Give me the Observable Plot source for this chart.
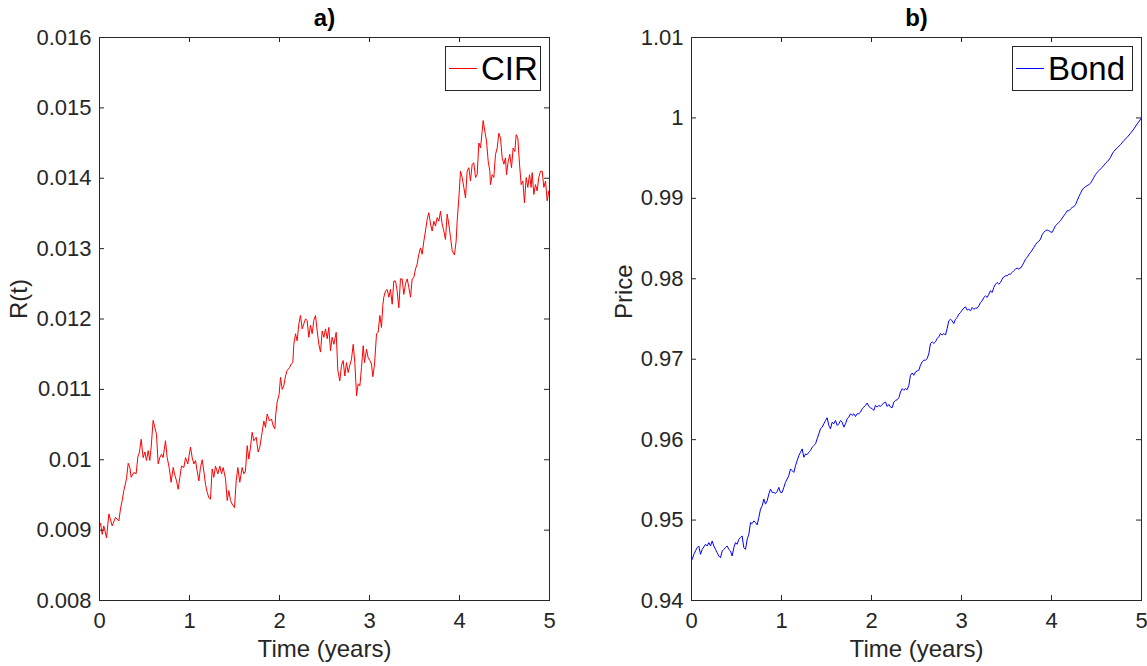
<!DOCTYPE html>
<html><head><meta charset="utf-8">
<script src="https://cdn.jsdelivr.net/npm/d3@7"></script>
<script src="https://cdn.jsdelivr.net/npm/@observablehq/plot@0.6"></script>
<style>
body{margin:0;background:#fff;}
#wrap{position:relative;width:1147px;height:666px;font-family:"Liberation Sans",Arial,sans-serif;color:#262626;background:#fff;}
.panel{position:absolute;top:0;}
.legend{position:absolute;border:1px solid #262626;background:#fff;display:flex;align-items:center;font-size:33px;color:#000;box-sizing:border-box;line-height:1;}
.legend .swatch{display:inline-block;width:28px;height:0;border-top:1px solid;margin:0 4px 0 3px;}
</style></head><body><div id="wrap"></div>
<script>
// a) CIR short rate path: [time (years), R(t)]
const cirSeries = [
[0,0.00905],[0.011,0.00910],[0.030,0.00894],[0.048,0.00906],[0.078,0.00889],[0.104,0.00923],[0.141,0.00906],[0.178,0.00918],[0.215,0.00913],[0.233,0.00930],[0.252,0.00942],[0.270,0.00956],[0.300,0.00973],[0.319,0.00995],[0.337,0.00989],[0.352,0.00975],[0.381,0.00982],[0.407,0.00980],[0.426,0.01004],[0.444,0.01011],[0.463,0.01029],[0.485,0.01003],[0.504,0.01011],[0.522,0.00999],[0.541,0.01013],[0.559,0.00999],[0.574,0.01018],[0.596,0.01056],[0.615,0.01046],[0.633,0.01036],[0.652,0.00994],[0.670,0.01003],[0.689,0.01008],[0.707,0.01003],[0.733,0.01027],[0.752,0.01003],[0.774,0.00989],[0.796,0.00968],[0.819,0.00989],[0.833,0.00980],[0.856,0.00970],[0.874,0.00958],[0.893,0.00975],[0.911,0.00991],[0.937,0.00989],[0.956,0.01003],[0.981,0.00994],
[1.011,0.01018],[1.030,0.01003],[1.048,0.00994],[1.067,0.00999],[1.085,0.00984],[1.104,0.00970],[1.122,0.00989],[1.141,0.01000],[1.159,0.00984],[1.178,0.00965],[1.196,0.00954],[1.215,0.00946],[1.233,0.00944],[1.252,0.00987],[1.270,0.00975],[1.289,0.00991],[1.315,0.00980],[1.337,0.00991],[1.356,0.00980],[1.374,0.00989],[1.400,0.00973],[1.419,0.00942],[1.437,0.00956],[1.456,0.00942],[1.474,0.00937],[1.500,0.00932],[1.519,0.00970],[1.537,0.00989],[1.559,0.00968],[1.585,0.00989],[1.604,0.00980],[1.622,0.00984],[1.641,0.01020],[1.659,0.01001],[1.678,0.01018],[1.696,0.01039],[1.715,0.01027],[1.741,0.01032],[1.763,0.01011],[1.781,0.01018],[1.807,0.01039],[1.826,0.01055],[1.844,0.01046],[1.863,0.01065],[1.889,0.01055],[1.911,0.01058],[1.930,0.01048],[1.948,0.01044],[1.959,0.01065],[1.974,0.01082],[1.996,0.01093],
[2.011,0.01117],[2.030,0.01100],[2.048,0.01105],[2.067,0.01119],[2.085,0.01127],[2.111,0.01131],[2.130,0.01136],[2.148,0.01138],[2.159,0.01164],[2.178,0.01179],[2.196,0.01169],[2.215,0.01193],[2.233,0.01205],[2.252,0.01186],[2.270,0.01193],[2.289,0.01200],[2.307,0.01198],[2.326,0.01174],[2.344,0.01191],[2.363,0.01179],[2.381,0.01198],[2.400,0.01205],[2.419,0.01183],[2.437,0.01164],[2.456,0.01153],[2.474,0.01183],[2.493,0.01174],[2.511,0.01186],[2.530,0.01172],[2.548,0.01188],[2.567,0.01155],[2.585,0.01174],[2.604,0.01164],[2.630,0.01181],[2.648,0.01127],[2.670,0.01112],[2.689,0.01134],[2.707,0.01141],[2.726,0.01119],[2.744,0.01138],[2.763,0.01124],[2.781,0.01134],[2.800,0.01143],[2.819,0.01164],[2.837,0.01138],[2.856,0.01091],[2.874,0.01108],[2.893,0.01105],[2.911,0.01131],[2.930,0.01162],[2.944,0.01138],[2.967,0.01157],[2.985,0.01145],
[3.004,0.01141],[3.022,0.01136],[3.037,0.01118],[3.056,0.01136],[3.078,0.01179],[3.096,0.01181],[3.115,0.01205],[3.133,0.01188],[3.148,0.01219],[3.159,0.01231],[3.178,0.01240],[3.196,0.01242],[3.215,0.01231],[3.233,0.01242],[3.252,0.01221],[3.270,0.01254],[3.289,0.01254],[3.307,0.01240],[3.326,0.01216],[3.344,0.01257],[3.363,0.01257],[3.381,0.01235],[3.400,0.01250],[3.419,0.01257],[3.437,0.01245],[3.456,0.01231],[3.474,0.01257],[3.493,0.01259],[3.511,0.01271],[3.530,0.01278],[3.548,0.01292],[3.567,0.01301],[3.585,0.01292],[3.604,0.01311],[3.622,0.01325],[3.641,0.01342],[3.659,0.01351],[3.678,0.01335],[3.696,0.01325],[3.715,0.01339],[3.733,0.01332],[3.752,0.01344],[3.770,0.01339],[3.789,0.01353],[3.807,0.01335],[3.826,0.01325],[3.844,0.01313],[3.863,0.01349],[3.881,0.01335],[3.900,0.01316],[3.919,0.01297],[3.944,0.01291],[3.963,0.01311],[3.974,0.01339],[3.993,0.01372],
[4.011,0.01410],[4.030,0.01401],[4.048,0.01387],[4.067,0.01372],[4.085,0.01410],[4.104,0.01415],[4.122,0.01396],[4.141,0.01420],[4.159,0.01422],[4.178,0.01401],[4.196,0.01405],[4.215,0.01450],[4.233,0.01443],[4.252,0.01467],[4.263,0.01482],[4.281,0.01467],[4.300,0.01453],[4.319,0.01424],[4.337,0.01410],[4.344,0.01391],[4.363,0.01405],[4.381,0.01401],[4.400,0.01434],[4.419,0.01443],[4.437,0.01464],[4.456,0.01457],[4.474,0.01429],[4.493,0.01420],[4.511,0.01429],[4.522,0.01405],[4.541,0.01424],[4.559,0.01434],[4.578,0.01415],[4.596,0.01443],[4.615,0.01438],[4.630,0.01462],[4.648,0.01457],[4.667,0.01420],[4.685,0.01391],[4.704,0.01396],[4.722,0.01365],[4.741,0.01401],[4.759,0.01387],[4.778,0.01405],[4.796,0.01387],[4.807,0.01408],[4.826,0.01377],[4.844,0.01391],[4.863,0.01382],[4.881,0.01401],[4.900,0.01410],[4.919,0.01410],[4.937,0.01387],[4.956,0.01396],[4.974,0.01368],[4.993,0.01382],[5.000,0.01377]
];

// b) Zero-coupon bond price path: [time (years), price]
const bondSeries = [
[0,0.94500],[0.007,0.94511],[0.026,0.94574],[0.044,0.94616],[0.063,0.94657],[0.081,0.94678],[0.100,0.94574],[0.119,0.94636],[0.137,0.94666],[0.156,0.94699],[0.174,0.94678],[0.193,0.94720],[0.211,0.94678],[0.230,0.94740],[0.248,0.94678],[0.267,0.94636],[0.285,0.94595],[0.304,0.94553],[0.322,0.94532],[0.341,0.94616],[0.359,0.94636],[0.378,0.94657],[0.396,0.94678],[0.415,0.94636],[0.433,0.94616],[0.452,0.94553],[0.470,0.94657],[0.489,0.94720],[0.507,0.94699],[0.526,0.94761],[0.544,0.94782],[0.563,0.94803],[0.581,0.94657],[0.600,0.94636],[0.619,0.94761],[0.637,0.94824],[0.656,0.94969],[0.674,0.94957],[0.693,0.94990],[0.711,0.94969],[0.730,0.94940],[0.748,0.95032],[0.767,0.95136],[0.785,0.95177],[0.804,0.95261],[0.822,0.95198],[0.841,0.95240],[0.859,0.95323],[0.878,0.95385],[0.896,0.95344],[0.915,0.95344],[0.933,0.95331],[0.952,0.95356],[0.970,0.95406],[0.989,0.95344],
[1.007,0.95344],[1.026,0.95406],[1.044,0.95469],[1.063,0.95510],[1.081,0.95552],[1.100,0.95635],[1.119,0.95614],[1.137,0.95593],[1.156,0.95677],[1.174,0.95739],[1.193,0.95802],[1.211,0.95843],[1.230,0.95885],[1.248,0.95781],[1.267,0.95822],[1.285,0.95814],[1.304,0.95843],[1.322,0.95864],[1.341,0.95906],[1.359,0.95926],[1.378,0.95947],[1.396,0.96010],[1.415,0.96072],[1.433,0.96134],[1.452,0.96155],[1.470,0.96197],[1.489,0.96238],[1.507,0.96272],[1.526,0.96176],[1.544,0.96134],[1.563,0.96218],[1.581,0.96197],[1.600,0.96238],[1.619,0.96176],[1.637,0.96197],[1.656,0.96238],[1.674,0.96218],[1.693,0.96155],[1.711,0.96197],[1.730,0.96259],[1.748,0.96280],[1.767,0.96322],[1.785,0.96301],[1.804,0.96322],[1.822,0.96288],[1.841,0.96322],[1.859,0.96322],[1.878,0.96342],[1.896,0.96384],[1.915,0.96405],[1.933,0.96426],[1.952,0.96455],[1.970,0.96413],[1.989,0.96397],
[2.007,0.96384],[2.026,0.96363],[2.044,0.96426],[2.063,0.96405],[2.081,0.96426],[2.100,0.96413],[2.119,0.96438],[2.137,0.96455],[2.156,0.96467],[2.174,0.96413],[2.193,0.96438],[2.211,0.96405],[2.230,0.96397],[2.248,0.96467],[2.267,0.96488],[2.285,0.96496],[2.304,0.96521],[2.322,0.96592],[2.341,0.96634],[2.359,0.96613],[2.378,0.96634],[2.396,0.96621],[2.415,0.96675],[2.433,0.96800],[2.452,0.96829],[2.470,0.96800],[2.489,0.96842],[2.507,0.96854],[2.526,0.96863],[2.544,0.96925],[2.563,0.96967],[2.581,0.96988],[2.600,0.96988],[2.619,0.97008],[2.637,0.97071],[2.656,0.97196],[2.674,0.97216],[2.693,0.97196],[2.711,0.97216],[2.730,0.97258],[2.748,0.97279],[2.767,0.97320],[2.785,0.97300],[2.804,0.97320],[2.822,0.97300],[2.841,0.97383],[2.859,0.97477],[2.878,0.97498],[2.896,0.97477],[2.915,0.97444],[2.933,0.97498],[2.952,0.97519],[2.970,0.97560],[2.989,0.97581],
[3.007,0.97610],[3.026,0.97635],[3.044,0.97651],[3.063,0.97610],[3.081,0.97622],[3.100,0.97602],[3.119,0.97643],[3.137,0.97622],[3.156,0.97635],[3.174,0.97635],[3.193,0.97664],[3.211,0.97705],[3.230,0.97726],[3.248,0.97768],[3.267,0.97788],[3.285,0.97768],[3.304,0.97809],[3.322,0.97851],[3.341,0.97830],[3.359,0.97892],[3.378,0.97934],[3.396,0.97954],[3.415,0.97934],[3.433,0.97954],[3.452,0.97996],[3.470,0.98025],[3.489,0.98037],[3.507,0.98037],[3.526,0.98058],[3.544,0.98058],[3.563,0.98079],[3.581,0.98100],[3.600,0.98120],[3.619,0.98133],[3.637,0.98120],[3.656,0.98133],[3.674,0.98162],[3.693,0.98203],[3.711,0.98245],[3.730,0.98266],[3.748,0.98299],[3.767,0.98328],[3.785,0.98357],[3.804,0.98390],[3.822,0.98423],[3.841,0.98452],[3.859,0.98465],[3.878,0.98494],[3.896,0.98548],[3.915,0.98577],[3.933,0.98598],[3.952,0.98606],[3.970,0.98598],[3.989,0.98585],
[4.007,0.98577],[4.026,0.98618],[4.044,0.98660],[4.063,0.98680],[4.081,0.98701],[4.100,0.98722],[4.119,0.98755],[4.137,0.98784],[4.156,0.98813],[4.174,0.98846],[4.193,0.98846],[4.211,0.98867],[4.230,0.98888],[4.248,0.98896],[4.267,0.98921],[4.285,0.98971],[4.304,0.99021],[4.322,0.99062],[4.341,0.99104],[4.359,0.99129],[4.378,0.99145],[4.396,0.99158],[4.415,0.99170],[4.433,0.99187],[4.452,0.99220],[4.470,0.99261],[4.489,0.99295],[4.507,0.99324],[4.526,0.99344],[4.544,0.99365],[4.563,0.99386],[4.581,0.99411],[4.600,0.99436],[4.619,0.99456],[4.637,0.99477],[4.656,0.99510],[4.674,0.99552],[4.693,0.99585],[4.730,0.99627],[4.767,0.99668],[4.804,0.99718],[4.841,0.99759],[4.878,0.99809],[4.915,0.99863],[4.952,0.99925],[5.000,1.00000]
];

const timeTicks = [0, 1, 2, 3, 4, 5];
const rateTicks = [0.008, 0.009, 0.010, 0.011, 0.012, 0.013, 0.014, 0.015, 0.016];
const priceTicks = [0.94, 0.95, 0.96, 0.97, 0.98, 0.99, 1.00, 1.01];
const titles = ["a)", "b)"];
const yLabels = ["R(t)", "Price"];
const xLabel = "Time (years)";
const seriesNames = ["CIR", "Bond"];

const AX = "#262626";
const H = 666, MT = 37, MB = 66;

function panel(cfg) {
  const fw = cfg.width - cfg.marginLeft - cfg.marginRight;
  const fh = H - MT - MB;
  const data = cfg.series.map(([t, v]) => ({t, v}));
  const svg = Plot.plot({
    width: cfg.width, height: H,
    marginLeft: cfg.marginLeft, marginRight: cfg.marginRight, marginTop: MT, marginBottom: MB,
    style: {fontFamily: '"Liberation Sans", Arial, sans-serif', fontSize: "22px", color: AX, background: "transparent", overflow: "visible"},
    x: {domain: [0, 5], label: null},
    y: {domain: cfg.yDomain, label: null},
    marks: [
      Plot.line(data, {x: "t", y: "v", stroke: cfg.color, strokeWidth: 1, clip: true}),
      Plot.frame({stroke: AX, strokeWidth: 1}),
      Plot.tickX(timeTicks, {x: d => d, insetTop: fh - 5, stroke: AX}),
      Plot.tickX(timeTicks, {x: d => d, insetBottom: fh - 5, stroke: AX}),
      Plot.tickY(cfg.yTicks, {y: d => d, insetRight: fw - 5, stroke: AX}),
      Plot.tickY(cfg.yTicks, {y: d => d, insetLeft: fw - 5, stroke: AX}),
      Plot.axisX(timeTicks, {tickSize: 0, tickPadding: 12, label: null, tickFormat: d => String(d)}),
      Plot.axisY(cfg.yTicks, {tickSize: 0, tickPadding: 8, label: null, tickFormat: cfg.fmt}),
      Plot.text([cfg.title], {text: d => d, frameAnchor: "top", dy: -19, lineAnchor: "middle", fontWeight: "bold", fontSize: 24, fill: "#000"}),
      Plot.text([xLabel], {text: d => d, frameAnchor: "bottom", dy: 49, lineAnchor: "middle", fontSize: 24, fill: AX}),
      Plot.text([cfg.ylabel], {text: d => d, frameAnchor: "left", dx: cfg.ylabelDx, rotate: -90, lineAnchor: "middle", fontSize: 24, fill: AX})
    ]
  });
  const div = document.createElement("div");
  div.className = "panel";
  div.style.left = cfg.left + "px";
  div.appendChild(svg);
  return div;
}

// MATLAB-style tick labels: drop trailing zeros (0.01, 1)
const trimFmt = digits => d => String(+d.toFixed(digits));

const wrap = document.getElementById("wrap");
wrap.appendChild(panel({
  series: cirSeries, color: "#ff0000", yDomain: [0.008, 0.016], yTicks: rateTicks,
  fmt: trimFmt(3), title: titles[0], ylabel: yLabels[0], ylabelDx: -80,
  left: 0, width: 574, marginLeft: 99, marginRight: 25
}));
wrap.appendChild(panel({
  series: bondSeries, color: "#0000ff", yDomain: [0.94, 1.01], yTicks: priceTicks,
  fmt: trimFmt(2), title: titles[1], ylabel: yLabels[1], ylabelDx: -67,
  left: 574, width: 573, marginLeft: 117, marginRight: 6
}));

function legend(name, color, left, top, width, height) {
  const el = document.createElement("div");
  el.className = "legend";
  el.style.left = left + "px"; el.style.top = top + "px";
  el.style.width = width + "px"; el.style.height = height + "px";
  const sw = document.createElement("span");
  sw.className = "swatch"; sw.style.borderTopColor = color;
  const tx = document.createElement("span");
  tx.textContent = name;
  el.appendChild(sw); el.appendChild(tx);
  wrap.appendChild(el);
}
legend(seriesNames[0], "#ff0000", 445, 46, 96, 45);
legend(seriesNames[1], "#0000ff", 1012, 46, 121, 45);
</script>
</body></html>
